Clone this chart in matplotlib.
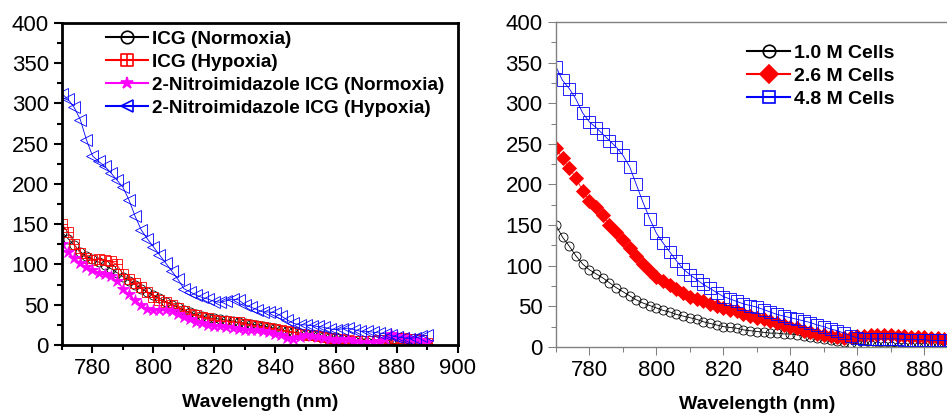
import matplotlib.pyplot as plt
import numpy as np
from matplotlib.path import Path
from matplotlib.ticker import MultipleLocator

plt.rcParams['font.family'] = ['Liberation Sans', 'DejaVu Sans']

# wavelength grid (nm), one reading every 2 nm
wavelength = list(range(770, 892, 2))

# left panel: ICG vs 2-nitroimidazole ICG
icg_normoxia = [140, 132, 124, 116, 110, 107, 103, 99, 95, 90,
                85, 80, 75, 70, 66, 62, 58, 54, 50, 47,
                43, 41, 38, 36, 34, 33, 32, 31, 30, 28,
                27, 26, 25, 24, 22, 21, 19, 17, 16, 15,
                14, 13, 12, 11, 10, 10, 8, 6, 5, 4,
                4, 3, 3, 3, 2, 2, 2, 2, 1, 1,
                1]
icg_hypoxia = [150, 140, 125, 114, 108, 106, 107, 106, 104, 100,
               88, 82, 77, 72, 66, 60, 56, 53, 50, 46,
               42, 39, 37, 35, 33, 31, 30, 30, 29, 28,
               26, 25, 23, 22, 21, 20, 19, 17, 16, 14,
               12, 12, 11, 10, 9, 8, 7, 6, 5, 5,
               5, 5, 6, 6, 7, 9, 9, 8, 8, 6,
               3]
nitro_normoxia = [125, 116, 108, 102, 97, 93, 90, 88, 86, 80,
                  70, 63, 56, 50, 45, 44, 44, 43, 42, 39,
                  35, 32, 29, 27, 25, 24, 23, 22, 21, 20,
                  19, 18, 18, 17, 16, 14, 12, 9, 8, 10,
                  12, 11, 10, 9, 7, 6, 8, 7, 5, 4,
                  4, 4, 5, 7, 14, 11, 10, 9, 8, 6,
                  4]
nitro_hypoxia = [312, 305, 295, 280, 255, 235, 228, 222, 214, 205,
                 196, 180, 160, 143, 132, 122, 112, 102, 92, 82,
                 70, 66, 62, 59, 57, 54, 53, 55, 57, 56,
                 50, 47, 44, 41, 41, 40, 36, 31, 27, 25,
                 25, 24, 23, 22, 20, 19, 20, 21, 19, 17,
                 17, 16, 15, 14, 12, 10, 9, 8, 9, 11,
                 12]

# right panel: cell number
cells_1_0 = [150, 135, 124, 112, 102, 95, 90, 85, 79, 73,
             68, 63, 58, 54, 51, 48, 45, 43, 40, 38,
             36, 34, 31, 29, 27, 25, 24, 23, 21, 20,
             19, 18, 17, 17, 16, 16, 15, 13, 12, 11,
             10, 8, 7, 6, 5, 4, 3, 2, 1, 1,
             1, 0, 0, 0, 0, 0, 0, 0, 0, 0,
             0]
cells_2_6 = [245, 232, 220, 208, 192, 180, 172, 162, 150, 142,
             132, 122, 112, 102, 94, 86, 81, 76, 71, 66,
             62, 59, 56, 53, 50, 48, 46, 44, 41, 38,
             36, 34, 32, 30, 27, 25, 23, 20, 18, 16,
             15, 13, 12, 11, 12, 13, 14, 15, 15, 15,
             15, 14, 13, 12, 12, 12, 11, 11, 10, 10,
             10]
cells_4_8 = [345, 328, 318, 305, 288, 277, 270, 262, 254, 246,
             236, 222, 200, 178, 158, 140, 128, 117, 106, 96,
             89, 83, 77, 72, 67, 62, 59, 56, 53, 51,
             49, 46, 43, 40, 38, 36, 34, 32, 30, 27,
             25, 22, 20, 17, 14, 11, 10, 10, 10, 10,
             10, 10, 9, 9, 9, 9, 8, 8, 8, 8,
             8]

left_labels = ["ICG (Normoxia)", "ICG (Hypoxia)",
               "2-Nitroimidazole ICG (Normoxia)", "2-Nitroimidazole ICG (Hypoxia)"]
right_labels = ["1.0 M Cells", "2.6 M Cells", "4.8 M Cells"]

# square with a plus inside, like the Origin marker
boxplus = Path([(-1, -1), (1, -1), (1, 1), (-1, 1), (-1, -1),
                (0, -1), (0, 1), (-1, 0), (1, 0)],
               [Path.MOVETO, Path.LINETO, Path.LINETO, Path.LINETO, Path.CLOSEPOLY,
                Path.MOVETO, Path.LINETO, Path.MOVETO, Path.LINETO])

fig = plt.figure(figsize=(9.47, 4.15), dpi=100)
ax1 = fig.add_axes([0.0655, 0.1687, 0.418, 0.776])
ax2 = fig.add_axes([0.587, 0.164, 0.4245, 0.783])

lw, mew = 0.6, 0.6
ax1.plot(wavelength, icg_normoxia, color='black', marker='o', ms=6.5, mfc='none', mew=mew, lw=lw, label=left_labels[0])
ax1.plot(wavelength, icg_hypoxia, color='red', marker=boxplus, ms=7, mfc='none', mew=mew, lw=lw, label=left_labels[1])
ax1.plot(wavelength, nitro_normoxia, color='magenta', marker='*', ms=9, mew=mew, lw=lw, label=left_labels[2])
ax1.plot(wavelength, nitro_hypoxia, color='blue', marker='<', ms=8, mfc='none', mew=mew, lw=lw, label=left_labels[3])

ax2.plot(wavelength, cells_1_0, color='black', marker='o', ms=6.5, mfc='none', mew=mew, lw=lw, label=right_labels[0])
ax2.plot(wavelength, cells_2_6, color='red', marker='D', ms=7, mew=mew, lw=lw, label=right_labels[1])
ax2.plot(wavelength, cells_4_8, color='blue', marker='s', ms=8, mfc='none', mew=mew, lw=lw, label=right_labels[2])

for ax, col, slw, xmax in [(ax1, 'black', 2.0, 900), (ax2, '#808080', 1.0, 890)]:
    ax.set_xlim(770, xmax)
    ax.set_ylim(0, 400)
    ax.xaxis.set_major_locator(MultipleLocator(20))
    ax.xaxis.set_minor_locator(MultipleLocator(10))
    ax.yaxis.set_major_locator(MultipleLocator(50))
    ax.yaxis.set_minor_locator(MultipleLocator(25))
    ax.tick_params(which='both', direction='out', color=col, width=slw * 0.75, labelsize=16)
    ax.tick_params(which='major', length=6)
    ax.tick_params(which='minor', length=3.5)
    ax.tick_params(axis='x', top=False, which='both')
    ax.tick_params(axis='y', right=False, which='both')
    for s in ax.spines.values():
        s.set_color(col)
        s.set_linewidth(slw)
    ax.set_xlabel("Wavelength (nm)", fontsize=14, fontweight='bold', labelpad=11)

ax2.spines['right'].set_visible(False)

leg1 = ax1.legend(loc='upper left', bbox_to_anchor=(0.092, 1.0), frameon=False,
                  prop={'weight': 'bold', 'size': 13.7}, numpoints=1,
                  handlelength=2.2, handletextpad=0.2, labelspacing=0.3, borderaxespad=0)
leg2 = ax2.legend(loc='upper left', bbox_to_anchor=(0.457, 0.955), frameon=False,
                  prop={'weight': 'bold', 'size': 14}, numpoints=1,
                  handlelength=2.2, handletextpad=0.2, labelspacing=0.28, borderaxespad=0)
for leg in (leg1, leg2):
    for h in leg.legend_handles:
        h.set_linewidth(1.5)
        h.set_markersize(9)
        h.set_markeredgewidth(1.2)

fig.savefig("out.png", dpi=100)
